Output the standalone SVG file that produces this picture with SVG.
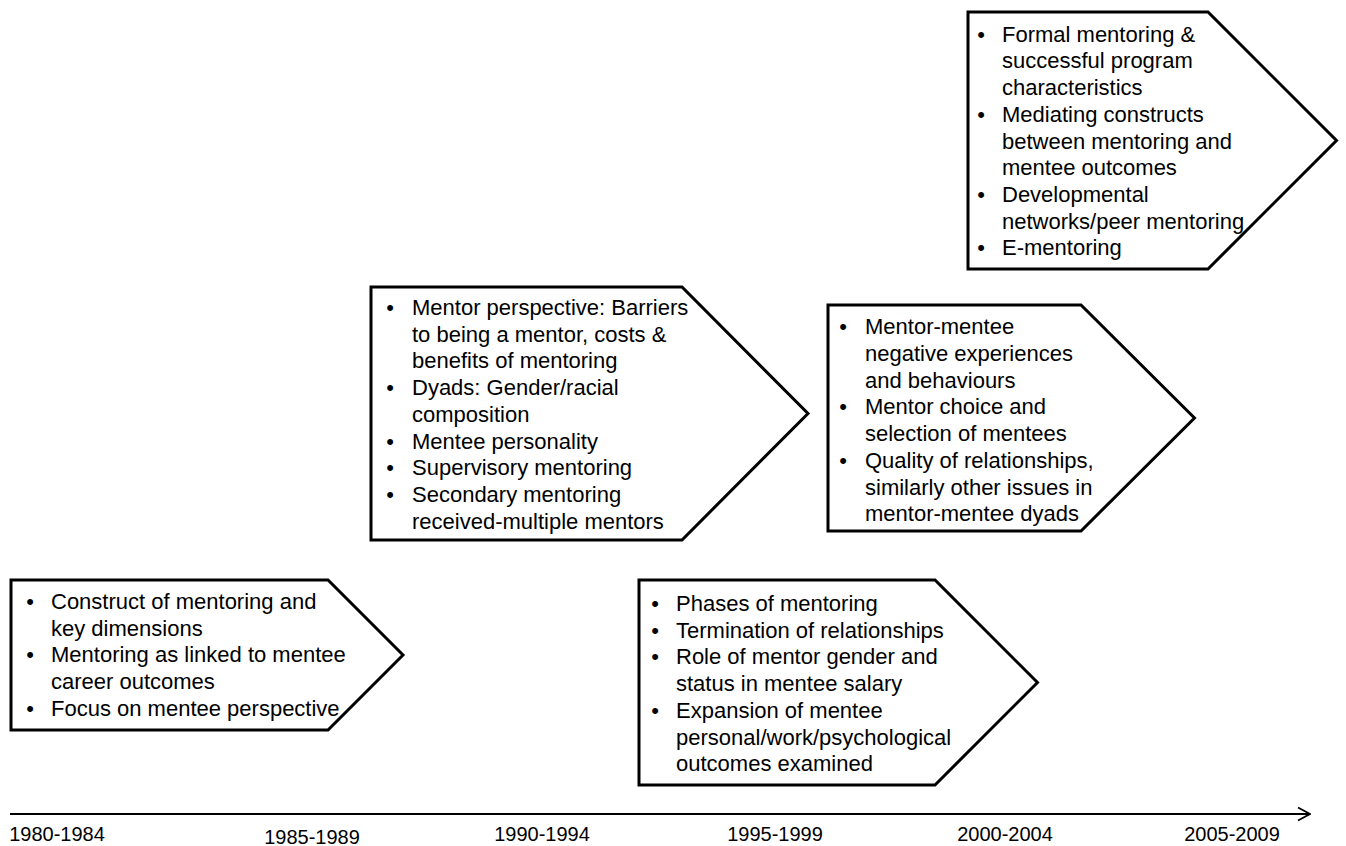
<svg xmlns="http://www.w3.org/2000/svg" width="1346" height="846" viewBox="0 0 1346 846">
<style>
.box{fill:#fff;stroke:#000;stroke-width:3;stroke-linejoin:miter}
.t{font-family:"Liberation Sans",Arial,sans-serif;font-size:22px;fill:#000}
.b{font-family:"Liberation Sans",Arial,sans-serif;font-size:22px;fill:#000;text-anchor:middle}
.yr{font-family:"Liberation Sans",Arial,sans-serif;font-size:20px;fill:#000;text-anchor:middle}
.axis{stroke:#000;stroke-width:2;fill:none}
</style>
<defs>
<marker id="open" viewBox="0 0 14 16" refX="13" refY="8" markerWidth="14" markerHeight="16" markerUnits="userSpaceOnUse" orient="auto">
<polyline points="1,1.5 13,8 1,14.5" fill="none" stroke="#000" stroke-width="1.8"/>
</marker>
</defs>
<rect width="1346" height="846" fill="#fff"/>

<g id="box-1980">
<polygon class="box" points="11,580 328,580 403,655 328,730 11,730"/>
<text class="b" x="30" y="609">•</text>
<text class="t" x="51" y="609">Construct of mentoring and</text>
<text class="t" x="51" y="635.7">key dimensions</text>
<text class="b" x="30" y="662.4">•</text>
<text class="t" x="51" y="662.4">Mentoring as linked to mentee</text>
<text class="t" x="51" y="689.1">career outcomes</text>
<text class="b" x="30" y="715.8">•</text>
<text class="t" x="51" y="715.8">Focus on mentee perspective</text>
</g>

<g id="box-1990">
<polygon class="box" points="371,287 682,287 808,413.5 682,540 371,540"/>
<text class="b" x="390" y="315">•</text>
<text class="t" x="412" y="315">Mentor perspective: Barriers</text>
<text class="t" x="412" y="341.7">to being a mentor, costs &amp;</text>
<text class="t" x="412" y="368.4">benefits of mentoring</text>
<text class="b" x="390" y="395.1">•</text>
<text class="t" x="412" y="395.1">Dyads: Gender/racial</text>
<text class="t" x="412" y="421.8">composition</text>
<text class="b" x="390" y="448.5">•</text>
<text class="t" x="412" y="448.5">Mentee personality</text>
<text class="b" x="390" y="475.2">•</text>
<text class="t" x="412" y="475.2">Supervisory mentoring</text>
<text class="b" x="390" y="501.9">•</text>
<text class="t" x="412" y="501.9">Secondary mentoring</text>
<text class="t" x="412" y="528.6">received-multiple mentors</text>
</g>

<g id="box-1995">
<polygon class="box" points="639,580 935,580 1037.5,682.5 935,785 639,785"/>
<text class="b" x="655" y="611">•</text>
<text class="t" x="676" y="611">Phases of mentoring</text>
<text class="b" x="655" y="637.7">•</text>
<text class="t" x="676" y="637.7">Termination of relationships</text>
<text class="b" x="655" y="664.4">•</text>
<text class="t" x="676" y="664.4">Role of mentor gender and</text>
<text class="t" x="676" y="691.1">status in mentee salary</text>
<text class="b" x="655" y="717.8">•</text>
<text class="t" x="676" y="717.8">Expansion of mentee</text>
<text class="t" x="676" y="744.5">personal/work/psychological</text>
<text class="t" x="676" y="771.2">outcomes examined</text>
</g>

<g id="box-2000">
<polygon class="box" points="828,305 1081,305 1194.5,418 1081,531 828,531"/>
<text class="b" x="843" y="334.3">•</text>
<text class="t" x="865" y="334.3">Mentor-mentee</text>
<text class="t" x="865" y="361">negative experiences</text>
<text class="t" x="865" y="387.7">and behaviours</text>
<text class="b" x="843" y="414.4">•</text>
<text class="t" x="865" y="414.4">Mentor choice and</text>
<text class="t" x="865" y="441.1">selection of mentees</text>
<text class="b" x="843" y="467.8">•</text>
<text class="t" x="865" y="467.8">Quality of relationships,</text>
<text class="t" x="865" y="494.5">similarly other issues in</text>
<text class="t" x="865" y="521.2">mentor-mentee dyads</text>
</g>

<g id="box-2005">
<polygon class="box" points="968,12 1208,12 1336.5,140.5 1208,269 968,269"/>
<text class="b" x="981" y="41.7">•</text>
<text class="t" x="1002" y="41.7">Formal mentoring &amp;</text>
<text class="t" x="1002" y="68.4">successful program</text>
<text class="t" x="1002" y="95.1">characteristics</text>
<text class="b" x="981" y="121.8">•</text>
<text class="t" x="1002" y="121.8">Mediating constructs</text>
<text class="t" x="1002" y="148.5">between mentoring and</text>
<text class="t" x="1002" y="175.2">mentee outcomes</text>
<text class="b" x="981" y="201.9">•</text>
<text class="t" x="1002" y="201.9">Developmental</text>
<text class="t" x="1002" y="228.6">networks/peer mentoring</text>
<text class="b" x="981" y="255.3">•</text>
<text class="t" x="1002" y="255.3">E-mentoring</text>
</g>

<g id="connectors">
<line id="timeline-axis" class="axis" x1="10" y1="814" x2="1310" y2="814" marker-end="url(#open)"/>
</g>

<g id="year-labels">
<text class="yr" x="57" y="841">1980-1984</text>
<text class="yr" x="312" y="843.5">1985-1989</text>
<text class="yr" x="542" y="841">1990-1994</text>
<text class="yr" x="775" y="841">1995-1999</text>
<text class="yr" x="1005" y="841">2000-2004</text>
<text class="yr" x="1232" y="841">2005-2009</text>
</g>
</svg>
